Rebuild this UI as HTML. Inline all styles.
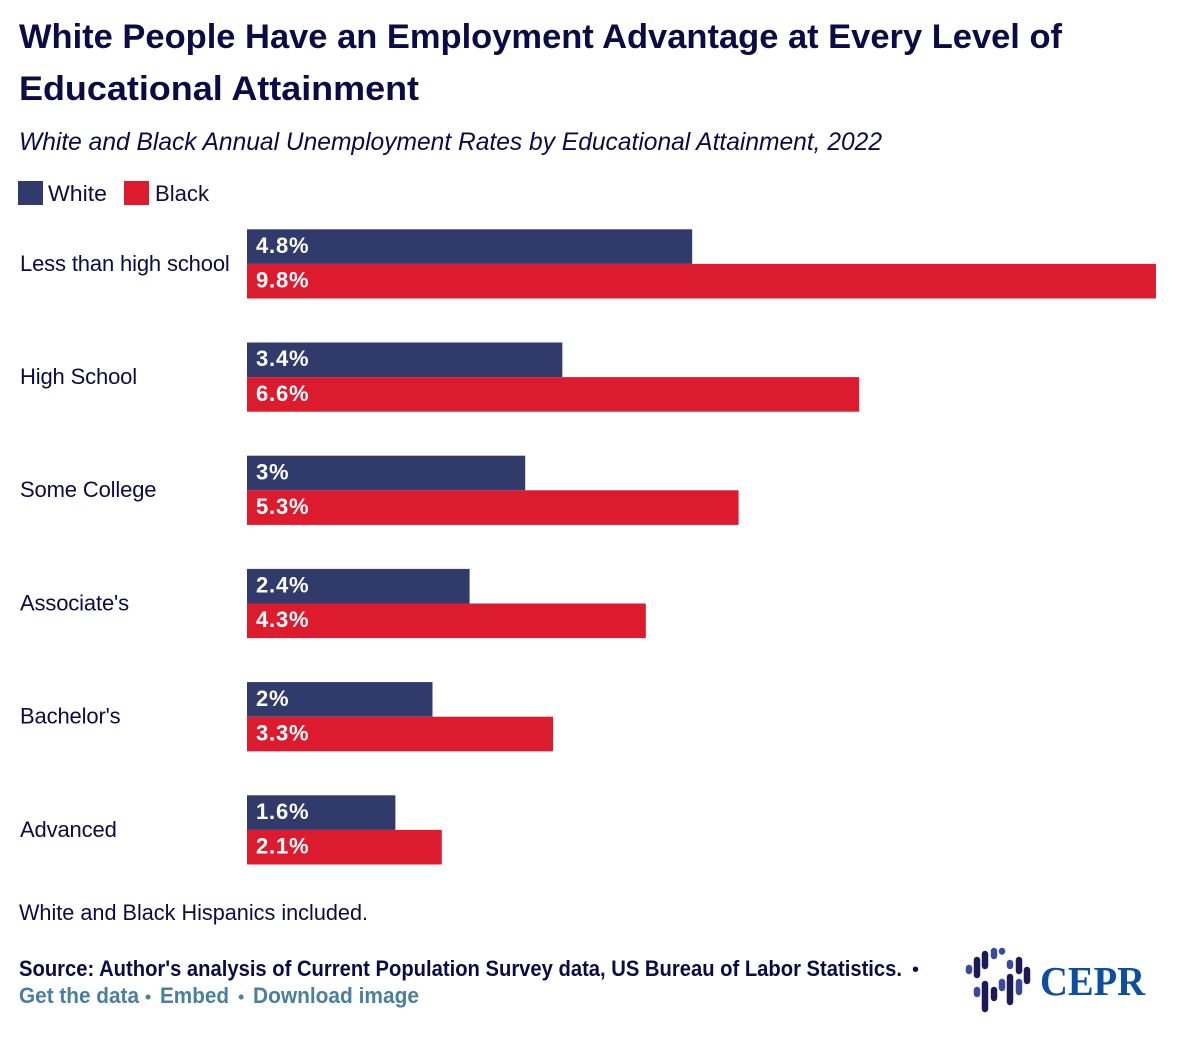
<!DOCTYPE html>
<html lang="en">
<head>
<meta charset="utf-8">
<title>White People Have an Employment Advantage</title>
<style>
html,body{margin:0;padding:0;background:#fff;}
svg{display:block;font-family:"Liberation Sans",sans-serif;}
.ink{fill:#0b0b45;}
.link{fill:#4b7f9f;font-size:22px;font-weight:bold;cursor:pointer;}
</style>
</head>
<body>
<svg id="chart" width="1200" height="1052" viewBox="0 0 1200 1052" xmlns="http://www.w3.org/2000/svg">
  <rect x="0" y="0" width="1200" height="1052" fill="#ffffff"/>
  <text class="ink" x="19" y="48" font-size="34" font-weight="bold" textLength="1043" lengthAdjust="spacingAndGlyphs">White People Have an Employment Advantage at Every Level of</text>
  <text class="ink" x="19" y="100" font-size="34" font-weight="bold" textLength="400" lengthAdjust="spacingAndGlyphs">Educational Attainment</text>
  <text class="ink" x="19" y="150" font-size="25" font-style="italic" textLength="863" lengthAdjust="spacingAndGlyphs">White and Black Annual Unemployment Rates by Educational Attainment, 2022</text>

  <g>
    <rect x="18" y="181" width="25" height="24" fill="#303a6b"/>
    <text class="ink" x="48" y="201" font-size="22" textLength="59" lengthAdjust="spacingAndGlyphs">White</text>
    <rect x="124" y="181" width="25" height="24" fill="#dc1c2e"/>
    <text class="ink" x="155" y="201" font-size="22" textLength="54" lengthAdjust="spacingAndGlyphs">Black</text>
  </g>

  <g id="bars"></g>

  <text class="ink" x="19" y="920" font-size="22" textLength="349" lengthAdjust="spacingAndGlyphs">White and Black Hispanics included.</text>
  <text class="ink" x="19" y="976" font-size="22" font-weight="bold" textLength="883" lengthAdjust="spacingAndGlyphs">Source: Author's analysis of Current Population Survey data, US Bureau of Labor Statistics.</text>
  <text class="ink" x="912" y="976" font-size="20">•</text>
  <text class="link" x="19" y="1003" textLength="120" lengthAdjust="spacingAndGlyphs">Get the data</text>
  <text x="145" y="1003" font-size="18" fill="#4b7f9f">•</text>
  <text class="link" x="160" y="1003" textLength="69" lengthAdjust="spacingAndGlyphs">Embed</text>
  <text x="238" y="1003" font-size="18" fill="#4b7f9f">•</text>
  <text class="link" x="253" y="1003" textLength="166" lengthAdjust="spacingAndGlyphs">Download image</text>

  <g>
    <g fill="none" stroke-linecap="round" stroke-width="6.5">
      <g stroke="#3a4a9a">
        <path d="M969 968V971"/><path d="M994 951V956"/><path d="M1002 951V951.5"/><path d="M1010 963V966"/>
        <path d="M977 990V994"/><path d="M1002 982V988"/><path d="M1019 982V992"/>
      </g>
      <g stroke="#1e1a55">
        <path d="M977 960V975"/><path d="M985 954V966"/><path d="M1019 960V971"/><path d="M1027 970V981"/>
        <path d="M985 984V1009"/><path d="M994 990V998"/><path d="M1010 977V1002"/>
      </g>
    </g>
    <text x="1040" y="995" font-family="'Liberation Serif',serif" font-size="41" font-weight="bold" fill="#0d4ea0" textLength="105" lengthAdjust="spacingAndGlyphs">CEPR</text>
  </g>
</svg>
<script>
const categories = ["Less than high school", "High School", "Some College", "Associate's", "Bachelor's", "Advanced"];
const whiteValues = [4.8, 3.4, 3, 2.4, 2, 1.6];
const blackValues = [9.8, 6.6, 5.3, 4.3, 3.3, 2.1];

const NS = 'http://www.w3.org/2000/svg';
const layer = document.getElementById('bars');
const xScale = function (v) { return 92.75 * v; };
const bandY = function (i) { return 229.3 + 113.2 * i; };
const barH = 34.6;

function drawBar(groupIdx, seriesIdx, value, color, seriesName) {
  const y = bandY(groupIdx) + seriesIdx * barH;
  const r = document.createElementNS(NS, 'rect');
  
  
  r.setAttribute('x', 247);
  r.setAttribute('y', y);
  r.setAttribute('width', xScale(value));
  r.setAttribute('height', barH);
  r.setAttribute('fill', color);
  layer.appendChild(r);
  const t = document.createElementNS(NS, 'text');
  
  
  t.setAttribute('x', 256);
  t.setAttribute('y', y + 23.7);
  t.setAttribute('font-size', '22');
  t.setAttribute('font-weight', 'bold');
  t.setAttribute('letter-spacing', '0.8');
  t.setAttribute('fill', '#ffffff');
  t.textContent = value + '%';
  layer.appendChild(t);
}

categories.forEach(function (name, i) {
  const label = document.createElementNS(NS, 'text');
  
  
  label.setAttribute('class', 'ink');
  label.setAttribute('x', 20);
  label.setAttribute('y', bandY(i) + 41.5);
  label.setAttribute('font-size', '22');
  label.setAttribute('letter-spacing', '-0.15');
  label.textContent = name;
  layer.appendChild(label);
  drawBar(i, 0, whiteValues[i], '#303a6b', 'white');
  drawBar(i, 1, blackValues[i], '#dc1c2e', 'black');
});
</script>
</body>
</html>
